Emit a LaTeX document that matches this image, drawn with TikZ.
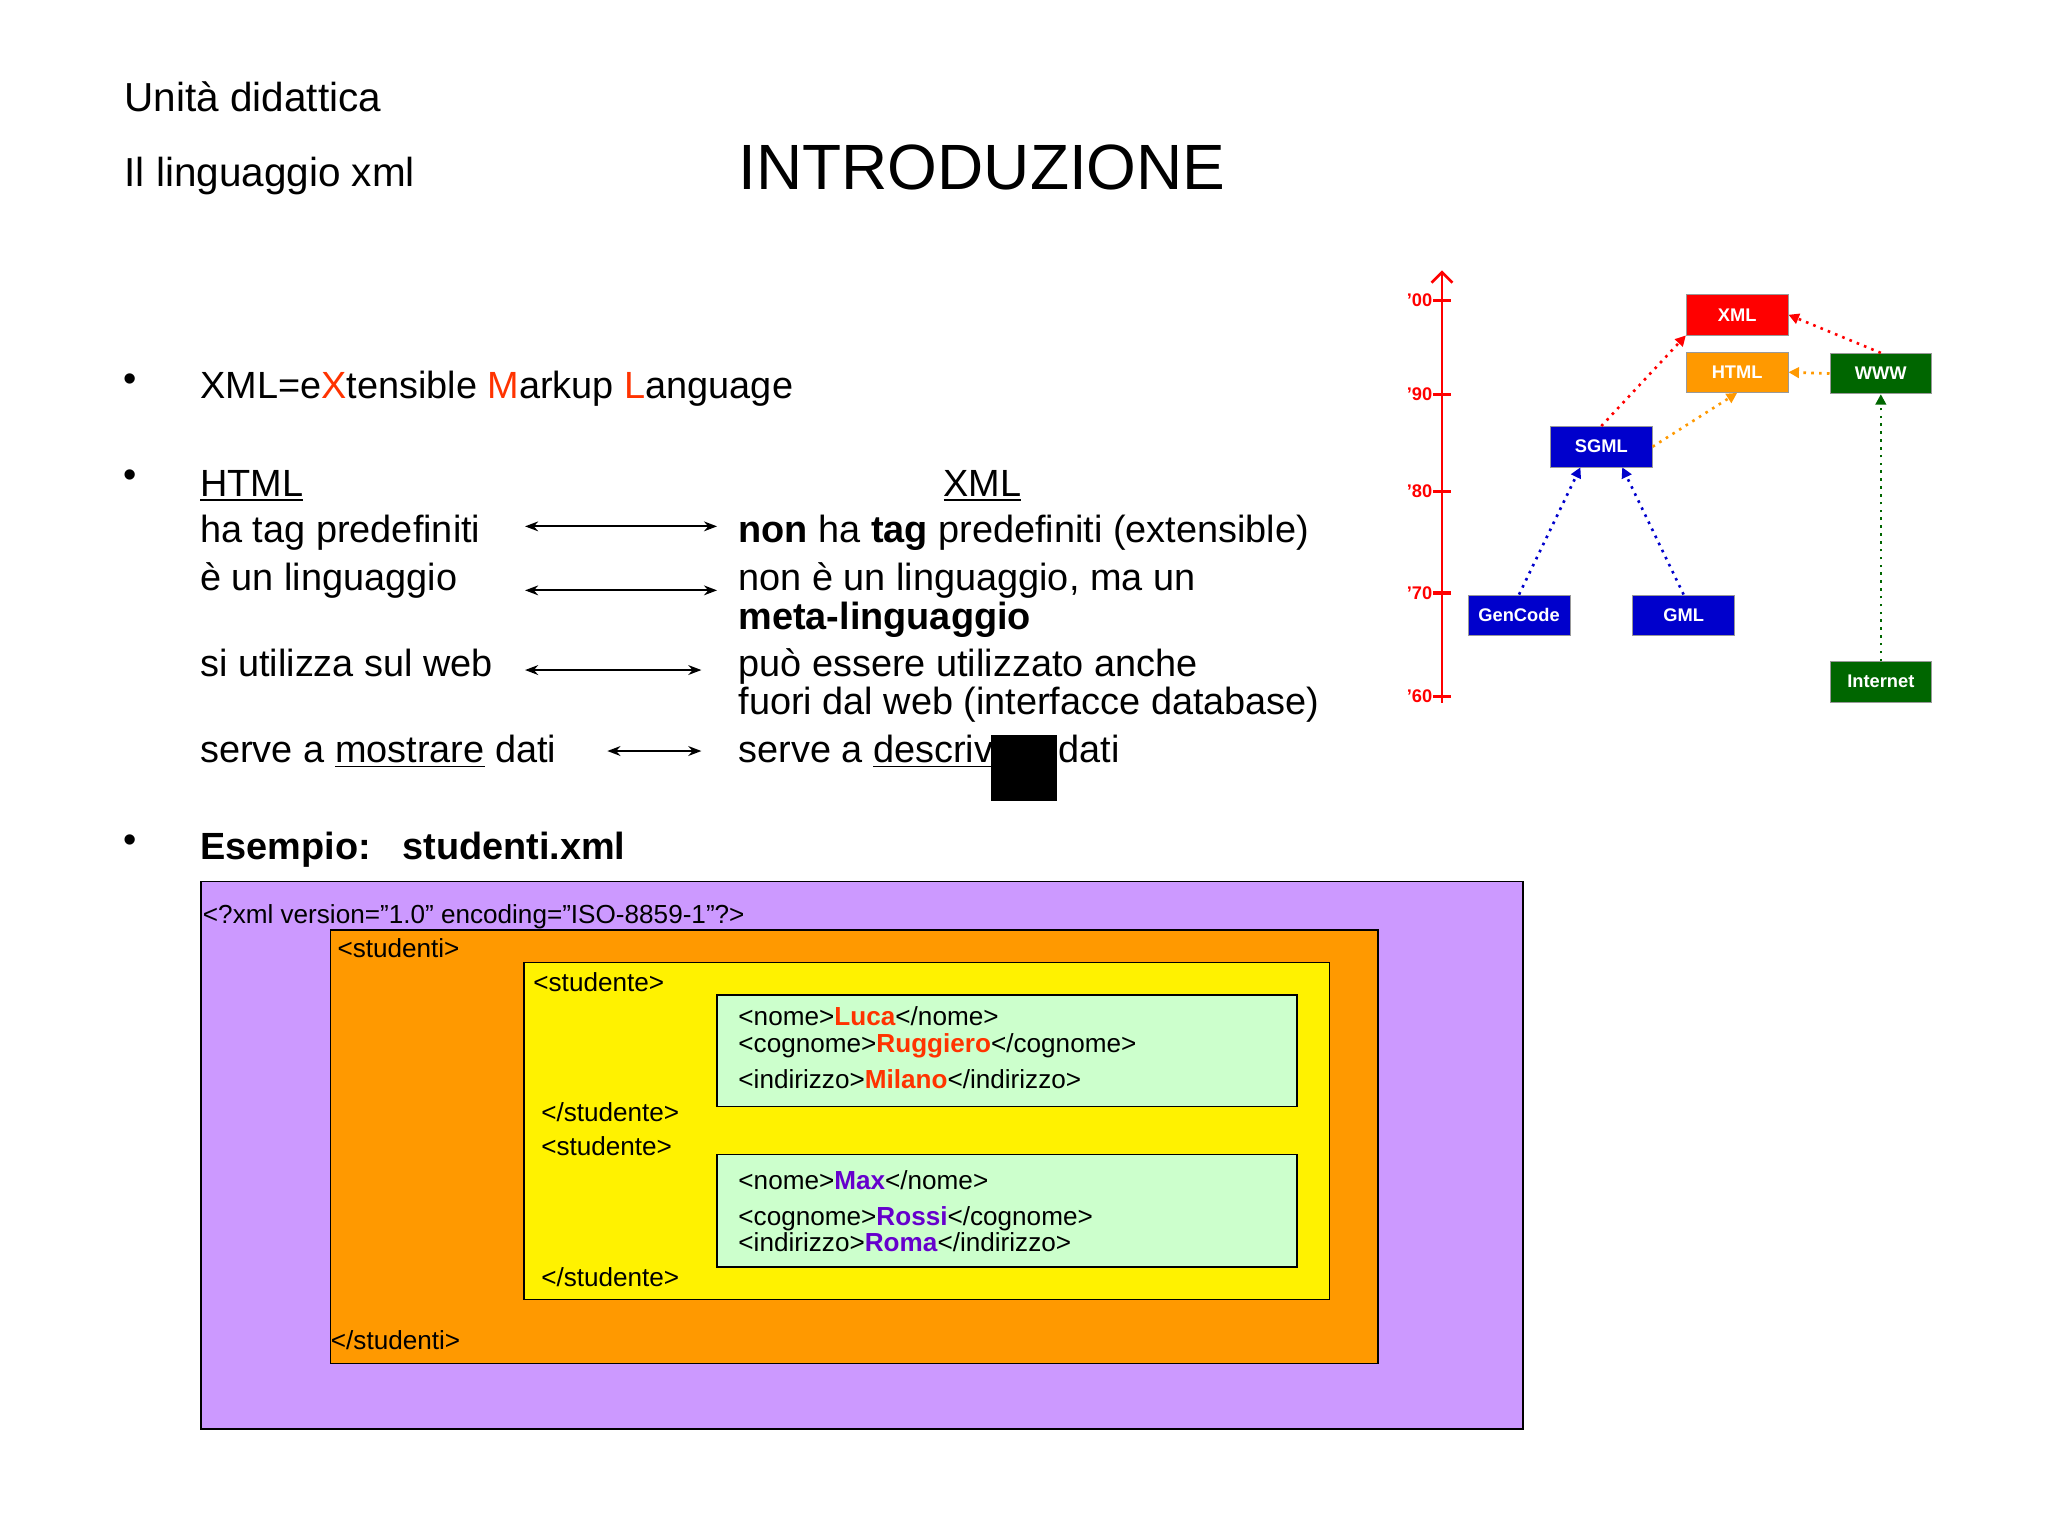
\documentclass[tikz,border=0pt]{standalone}
\usepackage{fontspec}
\setmainfont{Liberation Sans}
\usetikzlibrary{arrows.meta}
\definecolor{xred}{HTML}{FF3300}
\definecolor{xpurp}{HTML}{6600CC}
\definecolor{bpurp}{HTML}{CC99FF}
\definecolor{borange}{HTML}{FF9900}
\definecolor{bgreen}{HTML}{CCFFCC}
\definecolor{dgreen}{HTML}{006600}
\definecolor{dblue}{HTML}{0000CC}
\tikzset{
 txt/.style={anchor=base west,inner sep=0pt,font=\fontsize{14.5}{17}\selectfont},
 code/.style={anchor=base west,inner sep=0pt,font=\fontsize{10}{12}\selectfont},
 dual/.style={{Stealth[length=5pt]}-{Stealth[length=5pt]},line width=0.8pt},
 tbox/.style={draw=black!40,line width=0.3pt,text=white,font=\fontsize{7}{8}\selectfont\bfseries,minimum width=39pt,minimum height=15.5pt,inner sep=0pt},
 dot/.style={dotted,line width=1pt,-{Triangle[length=4pt,width=4pt]}},
}
\begin{document}
\begin{tikzpicture}[x=0.5pt,y=-0.5pt]
\useasboundingbox[fill=white] (0,0) rectangle (1568,1176);
% header
\node[txt,font=\fontsize{15.5}{18}\selectfont] (u1) at (95,85) {Unità didattica};
\node[txt,font=\fontsize{15.5}{18}\selectfont] (u2) at (95,143) {Il linguaggio xml};
\node[txt,font=\fontsize{24.5}{28}\selectfont] (ti) at (565,145) {INTRODUZIONE};
% bullets
\node[txt] (b1) at (94,300) {•};
\node[txt] (b2) at (94,373) {•};
\node[txt] (b3) at (94,653) {•};
\node[txt] (l1) at (153,305) {XML=e\textcolor{xred}{X}tensible \textcolor{xred}{M}arkup \textcolor{xred}{L}anguage};
\node[txt] (h) at (153,380) {\underline{HTML}};
\node[txt] (x) at (722,380) {\underline{XML}};
\node[txt] (r1l) at (153,415) {ha tag predefiniti};
\node[txt] (r1r) at (565,415) {\textbf{non} ha \textbf{tag} predefiniti (extensible)};
\node[txt] (r2l) at (153,452) {è un linguaggio};
\node[txt] (r2r) at (565,452) {non è un linguaggio, ma un};
\node[txt] (r2r2) at (565,482) {\textbf{meta-linguaggio}};
\node[txt] (r3l) at (153,518) {si utilizza sul web};
\node[txt] (r3r) at (565,518) {può essere utilizzato anche};
\node[txt] (r3r2) at (565,547) {fuori dal web (interfacce database)};
\node[txt] (r4l) at (153,584) {serve a \underline{mostrare} dati};
\node[txt] (r4r) at (565,584) {serve a \underline{descrivere} dati};
\fill[black] (759,563) rectangle (809,613);
\coordinate (a1l) at (402,403); \coordinate (a1r) at (549,403);
\coordinate (a2l) at (402,452); \coordinate (a2r) at (549,452);
\coordinate (a3l) at (402,513); \coordinate (a3r) at (537,513);
\coordinate (a4l) at (465,575); \coordinate (a4r) at (537,575);
\draw[dual] (a1l) -- (a1r);
\draw[dual] (a2l) -- (a2r);
\draw[dual] (a3l) -- (a3r);
\draw[dual] (a4l) -- (a4r);
\node[txt] (es) at (153,658) {\textbf{Esempio:\ \ \ studenti.xml}};
% nested boxes
\draw[fill=bpurp,line width=0.6pt] (154,675) rectangle (1166,1094);
\draw[fill=borange,line width=0.6pt] (253,712) rectangle (1055,1044);
\draw[fill=yellow,line width=0.6pt] (401,737) rectangle (1018,995);
\draw[fill=bgreen,line width=0.6pt] (549,762) rectangle (993,847);
\draw[fill=bgreen,line width=0.6pt] (549,884) rectangle (993,970);
\node[code] (c0) at (155,707) {<?xml version="1.0" encoding="ISO-8859-1"?>};
\node[code] (c1) at (258,733) {<studenti>};
\node[code] (c2) at (408,759) {<studente>};
\node[code] (c3) at (565,785) {<nome>\textcolor{xred}{\textbf{Luca}}</nome>};
\node[code] (c4) at (565,806) {<cognome>\textcolor{xred}{\textbf{Ruggiero}}</cognome>};
\node[code] (c5) at (565,833) {<indirizzo>\textcolor{xred}{\textbf{Milano}}</indirizzo>};
\node[code] (c6) at (414,859) {</studente>};
\node[code] (c7) at (414,885) {<studente>};
\node[code] (c8) at (565,911) {<nome>\textcolor{xpurp}{\textbf{Max}}</nome>};
\node[code] (c9) at (565,938) {<cognome>\textcolor{xpurp}{\textbf{Rossi}}</cognome>};
\node[code] (c10) at (565,958) {<indirizzo>\textcolor{xpurp}{\textbf{Roma}}</indirizzo>};
\node[code] (c11) at (414,985) {</studente>};
\node[code] (c12) at (253,1033) {</studenti>};
% timeline
\coordinate (ax0) at (1104,538); \coordinate (ax1) at (1104,207);
\draw[red,line width=1pt,-{Straight Barb[length=4pt]}] (ax0) -- (ax1);
\foreach \yy/\lab in {230/'00,302/'90,376/'80,454/'70,533/'60}{
 \draw[red,line width=1.2pt] (1097,\yy) -- (1111,\yy);
 \node[anchor=east,inner sep=0pt,text=red,font=\fontsize{7}{8}\selectfont\bfseries] at (1097,\yy) {\lab};
}
\node[tbox,fill=red] (xml) at (1330,241) {XML};
\node[tbox,fill=borange] (html) at (1330,285) {HTML};
\node[tbox,fill=dgreen] (www) at (1440,286) {WWW};
\node[tbox,fill=dblue] (sgml) at (1226,342) {SGML};
\node[tbox,fill=dblue] (gen) at (1163,471) {GenCode};
\node[tbox,fill=dblue] (gml) at (1289,471) {GML};
\node[tbox,fill=dgreen] (inet) at (1440,522) {Internet};
\draw[dot,red] (sgml.north) -- (xml.south west);
\draw[dot,red] (www.north) -- (xml.east);
\draw[dot,borange] (www.west) -- (html.east);
\draw[dot,borange] (sgml.east) -- (html.south);
\draw[dot,dblue] (gen.north) -- ([xshift=-8]sgml.south);
\draw[dot,dblue] (gml.north) -- ([xshift=8]sgml.south);
\draw[dot,dgreen] (inet.north) -- (www.south);
\end{tikzpicture}
\end{document}
